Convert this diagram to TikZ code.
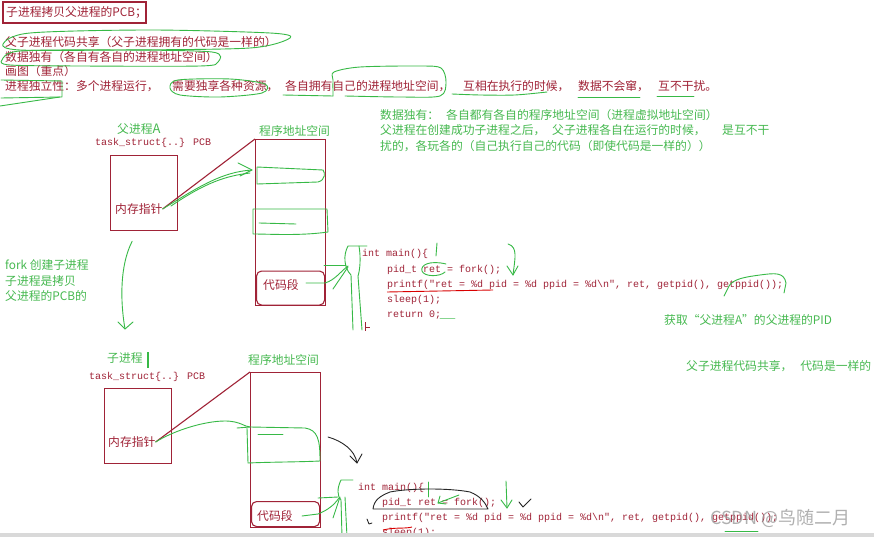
\documentclass[tikz,border=0pt]{standalone}
\usepackage{fontspec}
\setmainfont{Noto Sans CJK SC}
\newfontfamily\cjkf{Noto Sans CJK SC}
\newfontfamily\monof{Liberation Mono}
\definecolor{dkred}{RGB}{160,35,55}
\definecolor{gtxt}{RGB}{70,185,80}
\definecolor{gstk}{RGB}{55,185,70}
\definecolor{wmark}{RGB}{150,150,150}
\tikzset{
  rt/.style={text=dkred,font=\cjkf\fontsize{11.8}{13}\selectfont,anchor=west,inner sep=0pt},
  gt/.style={text=gtxt,font=\cjkf\fontsize{11.8}{13}\selectfont,anchor=west,inner sep=0pt},
  ct/.style={text=dkred,font=\monof\fontsize{10}{12}\selectfont,anchor=west,inner sep=0pt},
  pbox/.style={draw=dkred,line width=1.3pt},
  gs/.style={draw=gstk,line width=0.9pt,line cap=round,line join=round},
  ks/.style={draw=black!85,line width=0.9pt,line cap=round,line join=round},
  rl/.style={draw=dkred,line width=1.1pt}
}
\begin{document}
\begin{tikzpicture}[x=1pt,y=-1pt]
\useasboundingbox (0,0) rectangle (874,537);
\fill[white] (0,0) rectangle (874,537);

% title
\node[rt] (title) at (6,12.5) {子进程拷贝父进程的PCB；};
\draw[pbox] (3,2) rectangle (146,23);

% top lines
\node[rt] (l1) at (5,42) {父子进程代码共享（父子进程拥有的代码是一样的）};
\node[rt] (l2) at (5,57) {数据独有（各自有各自的进程地址空间）};
\node[rt] (l3) at (5,71) {画图（重点）};
\node[rt] (l4a) at (5,86) {进程独立性：多个进程运行，};
\node[rt] (l4b) at (172,86) {需要独享各种资源，};
\node[rt] (l4c) at (285,86) {各自拥有自己的进程地址空间，};
\node[rt] (l4d) at (463,86) {互相在执行的时候，};
\node[rt] (l4e) at (578,86) {数据不会窜，};
\node[rt] (l4f) at (658,86) {互不干扰。};

% top scribbles
\draw[gs] plot[smooth cycle] coordinates {(3,44) (30,33) (150,30) (270,33) (290,38) (250,48) (120,50) (20,50)};
\draw[gs] plot[smooth cycle] coordinates {(2,60) (20,51) (120,50) (212,52) (218,62) (200,66) (80,66) (10,65)};
\draw[gs] (1,80) -- (62,81) -- (62,97) -- (1,98);
\draw[gs] (0,106) -- (60,97);
\draw[gs] plot[smooth cycle] coordinates {(170,88) (178,80) (230,79) (265,84) (262,93) (220,97) (180,95)};
\draw[gs] (283,95) -- (333,96);
\draw[gs] plot[smooth] coordinates {(333,96) (333,80) (334,72) (360,67) (420,66) (441,68) (446,82) (440,96) (400,97) (345,96)};
\draw[gs] plot[smooth] coordinates {(452,94) (480,95) (515,95) (547,92)};
\draw[gs] (578,97) -- (640,97);
\draw[gs] (657,96) -- (694,96);

% green paragraph
\node[gt] (p1a) at (380,115) {数据独有：};
\node[gt] (p1b) at (446,115) {各自都有各自的程序地址空间（进程虚拟地址空间）};
\node[gt] (p2a) at (380,130) {父进程在创建成功子进程之后，};
\node[gt] (p2b) at (552,130) {父子进程各自在运行的时候，};
\node[gt] (p2c) at (722,130) {是互不干};
\node[gt] (p3) at (380,146) {扰的，各玩各的（自己执行自己的代码（即使代码是一样的））};

% ===== upper diagram =====
\node[gt] (parA) at (117,129) {父进程\fontsize{13}{13}\selectfont A};
\node[ct] (ts1) at (95,143) {task\_struct\{..\} PCB};
\node[pbox,minimum width=67pt,minimum height=75pt,anchor=north west,inner sep=0pt] (pcb1) at (110,155) {};
\node[rt] (ptr1) at (115,209) {内存指针};
\node[gt] (as1t) at (259,131) {程序地址空间};
\node[pbox,minimum width=70pt,minimum height=166pt,anchor=north west,inner sep=0pt] (as1) at (255,139) {};
\node[draw=dkred,line width=1.1pt,rounded corners=5pt,minimum width=68pt,minimum height=34pt,anchor=north west,inner sep=0pt] (cs1) at (256,270.5) {};
\node[rt] (cs1t) at (263,285) {代码段};
\draw[rl] (ptr1.east) -- (as1.north west);

% green arrow pointer -> segment
\draw[gs] (ptr1.east) .. controls (200,186) and (222,172) .. (252,170);
\draw[gs] (171,206) .. controls (205,183) and (225,176) .. (250,173);
\draw[gs] (238,163) -- (252,170) -- (240,176);
% scribbles in address box
\draw[gs] (257,167) -- (257,184) -- (318,182) .. controls (326,180) and (325,172) .. (323,170) -- (257,167);
\draw[gs] (253,209) -- (327,209) -- (328,232) .. controls (300,236) and (270,234) .. (253,234) -- (253,209);
\draw[gs] (259,223) -- (296,224);

% code block 1
\node[ct] (c1a) at (362,254) {int main()\{};
\node[ct] (c1b) at (387,270) {pid\_t ret = fork();};
\node[ct] (c1c) at (387,285) {printf("ret = \%d pid = \%d ppid = \%d\textbackslash n", ret, getpid(), getppid());};
\node[ct] (c1d) at (387,300) {sleep(1);};
\node[ct] (c1e) at (387,315) {return 0;};

% code 1 annotations
\draw[gs] (306,283) -- (325,283) .. controls (335,280) and (340,272) .. (348,266);
\draw[gs] (324,265) -- (346,265);
\draw[gs] (333,289) -- (348,267);
\draw[gs] (367,246) -- (348,246) .. controls (343,255) and (344,268) .. (351,275) -- (353,330);
\draw[gs] (359,246) .. controls (361,258) and (360,270) .. (358,276) -- (362,330);
\draw[gs] (446,264) .. controls (430,260) and (420,265) .. (422,271) .. controls (424,277) and (440,277) .. (445,272);
\draw[gs] (437,243) -- (436,256);
\draw[gs] (508,244) .. controls (518,247) and (515,258) .. (513,275);
\draw[gs] (507,266) -- (513,275) -- (518,266);
\draw[gs] (724,296) -- (729,286) .. controls (733,279) and (745,277) .. (760,275) .. controls (775,273) and (784,272) .. (786,283) -- (784,293);
\draw[red!85!black,line width=0.9pt] (387,292) -- (493,290);
\draw[gs,gstk!60] (440,318) -- (455,318);
\draw[draw=dkred,line width=0.7pt] (365,322) -- (365,331) (365,327) -- (370,327);

% left green note + arrow
\node[gt] (fk1) at (5,265) {fork 创建子进程};
\node[gt] (fk2) at (5,281) {子进程是拷贝};
\node[gt] (fk3) at (5,296) {父进程的PCB的};
\draw[gs] (pcb1.south) ++(-12,10) .. controls (120,265) and (120,300) .. (125,329);
\draw[gs] (118,322) -- (125,329) -- (133,322);

% right notes
\node[gt] (pidn) at (664,320) {获取“父进程A”的父进程的PID};
\node[gt] (shr) at (686,366) {父子进程代码共享，\hspace{8pt}代码是一样的};

% ===== lower diagram =====
\node[gt] (chd) at (107,358) {子进程};
\draw[gstk,line width=2pt] (148,352) -- (148,368);
\node[ct] (ts2) at (89,377) {task\_struct\{..\} PCB};
\node[pbox,minimum width=67pt,minimum height=75pt,anchor=north west,inner sep=0pt] (pcb2) at (104,388) {};
\node[rt] (ptr2) at (108,442) {内存指针};
\node[gt] (as2t) at (248,360) {程序地址空间};
\node[pbox,minimum width=70pt,minimum height=155pt,anchor=north west,inner sep=0pt] (as2) at (250,372) {};
\node[draw=dkred,line width=1.1pt,rounded corners=5pt,minimum width=68pt,minimum height=25pt,anchor=north west,inner sep=0pt] (cs2) at (251,501) {};
\node[rt] (cs2t) at (257,516) {代码段};
\draw[rl] (ptr2.east) -- (as2.north west);

\draw[gs] (ptr2.east) .. controls (175,430) and (205,421) .. (225,421) .. controls (240,421) and (245,427) .. (250,427) -- (305,428) .. controls (318,430) and (320,440) .. (320,461) .. controls (300,462) and (270,462) .. (248,463) -- (247,428);
\draw[gs] (237,428) -- (250,427);
\draw[gs] (258,434) -- (283,434);

% black arrow
\draw[ks] (328,437) .. controls (342,441) and (355,450) .. (357,463);
\draw[ks] (350,456) -- (357,463) -- (362,454);

% code block 2
\node[ct] (c2a) at (358,488) {int main()\{};
\node[ct] (c2b) at (382,503) {pid\_t ret = fork();};
\node[ct] (c2c) at (382,518) {printf("ret = \%d pid = \%d ppid = \%d\textbackslash n", ret, getpid(), getppid());};
\node[ct] (c2d) at (382,533) {sleep(1);};

% code 2 annotations
\draw[gs] (302,516) -- (318,514) .. controls (328,510) and (334,505) .. (339,498);
\draw[gs] (318,498) -- (338,497);
\draw[gs] (333,518) -- (340,497);
\draw[gs] (353,480) -- (341,480) .. controls (337,488) and (337,496) .. (341,500) -- (342,537);
\draw[gs] (345,497) -- (347,537);
\draw[gs] (428,482) -- (428,497);
\draw[gs] (459,495) -- (438,503);
\draw[gs] (440,496) -- (438,503) -- (446,504);
\draw[gs] (506,481) -- (507,508);
\draw[gs] (501,500) -- (507,508) -- (512,500);
\draw[ks] (373,509) .. controls (374,500) and (380,496) .. (390,492) .. controls (410,488) and (450,488) .. (470,492) .. controls (480,496) and (485,502) .. (488,509) -- (373,509);
\draw[ks] (519,502) -- (523,507) -- (531,499);
\draw[ks] (367,519) -- (369,524) -- (372,523);
\draw[red!85!black,line width=0.9pt] (383,530) .. controls (395,527) and (405,529) .. (412,527);
\draw[gs] (725,531) -- (758,531);

% bottom bar
\fill[gray!30] (0,533) rectangle (874,537);

% watermark
\node[text=wmark,opacity=0.75,font=\cjkf\fontsize{18}{18}\selectfont,anchor=west,inner sep=0pt] (wm) at (710,518) {CSDN @鸟随二月};
\end{tikzpicture}
\end{document}
